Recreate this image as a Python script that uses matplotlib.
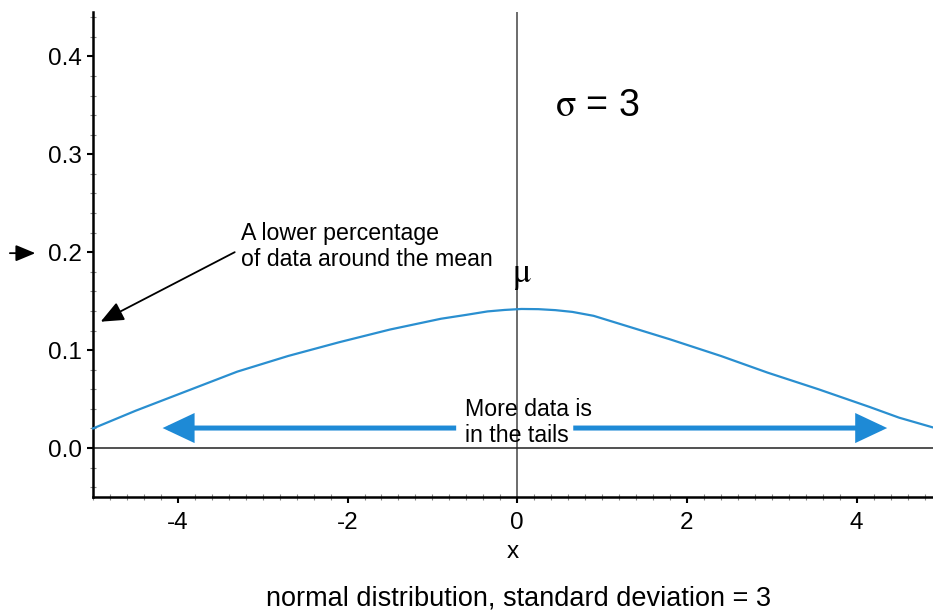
import numpy as np
import matplotlib.pyplot as plt
from matplotlib.ticker import MultipleLocator, FormatStrFormatter

plt.rcParams['font.family'] = ['Liberation Sans', 'DejaVu Sans']
plt.rcParams['axes.unicode_minus'] = False
plt.rcParams['mathtext.fontset'] = 'stix'

# curve
curve_x = [-5.0, -4.5, -3.9, -3.3, -2.7, -2.1, -1.5, -0.9, -0.6, -0.35, -0.15, 0.05,
           0.25, 0.45, 0.65, 0.9, 1.2, 1.8, 2.4, 2.95, 3.55, 4.15, 4.5, 4.9]
curve_y = [0.020, 0.038, 0.058, 0.078, 0.094, 0.108, 0.121, 0.132, 0.136, 0.1395, 0.141, 0.142,
           0.1418, 0.1408, 0.139, 0.135, 0.127, 0.111, 0.094, 0.077, 0.060, 0.042, 0.031, 0.021]

x_ticks = [-4, -2, 0, 2, 4]
y_ticks = [0.0, 0.1, 0.2, 0.3, 0.4]

blue = '#1e8ad6'

fig = plt.figure(figsize=(9.33, 6.14), dpi=100)
ax = fig.add_axes([0.0997, 0.1906, 0.9003, 0.7894])

ax.set_xlim(-5, 4.9)
ax.set_ylim(-0.05, 0.445)

ax.spines['top'].set_visible(False)
ax.spines['right'].set_visible(False)
for s in ['left', 'bottom']:
	ax.spines[s].set_linewidth(1.8)

ax.axvline(0, color='#444444', lw=1.1, zorder=1)
ax.axhline(0, color='#222222', lw=1.1, zorder=1)

ax.plot(curve_x, curve_y, color='#2a8fd0', lw=1.6, zorder=3, clip_on=False)

ax.set_xticks(x_ticks)
ax.set_yticks(y_ticks)
ax.yaxis.set_major_formatter(FormatStrFormatter('%.1f'))
ax.xaxis.set_minor_locator(MultipleLocator(0.2))
ax.yaxis.set_minor_locator(MultipleLocator(0.02))
ax.tick_params(which='major', direction='out', length=4, width=1.5, labelsize=17.5)
ax.tick_params(axis='x', which='major', pad=7)
ax.tick_params(axis='y', which='major', pad=4)
ax.tick_params(which='minor', direction='inout', length=4, width=0.8, color='#888888')

ax.set_xlabel('x', fontsize=17.5, labelpad=5)
fig.text(0.556, 0.026, 'normal distribution, standard deviation = 3', fontsize=19.5,
	ha='center', va='center')

# annotations
ax.text(0.44, 0.349, r'$\mathrm{\sigma}$ = 3', fontsize=27, ha='left', va='center')
ax.text(0.05, 0.178, '\u03bc', fontsize=25, ha='center', va='center',
	family=['STIXGeneral', 'DejaVu Serif'])
ax.text(-3.26, 0.2056, 'A lower percentage\nof data around the mean', fontsize=16.7,
	ha='left', va='center')
ax.text(-0.61, 0.026, 'More data is\nin the tails', fontsize=16.7,
	ha='left', va='center')

ax.annotate('', xy=(-4.91, 0.129), xytext=(-3.33, 0.200),
	arrowprops=dict(arrowstyle='-|>,head_length=0.7,head_width=0.3', color='black',
		lw=1.3, shrinkA=0, shrinkB=0, mutation_scale=20))
ax.annotate('', xy=(-5.68, 0.199), xytext=(-5.98, 0.199), annotation_clip=False,
	arrowprops=dict(arrowstyle='-|>,head_length=0.6,head_width=0.25', color='black',
		lw=1.3, shrinkA=0, shrinkB=0, mutation_scale=20))

for tail, tip in [(-0.72, -4.18), (0.66, 4.36)]:
	ax.annotate('', xy=(tip, 0.0204), xytext=(tail, 0.0204),
		arrowprops=dict(arrowstyle='-|>,head_length=0.85,head_width=0.4', color=blue,
			lw=3.6, shrinkA=0, shrinkB=0, mutation_scale=20, joinstyle='miter',
			capstyle='butt'))

fig.savefig('out.png', dpi=100)
